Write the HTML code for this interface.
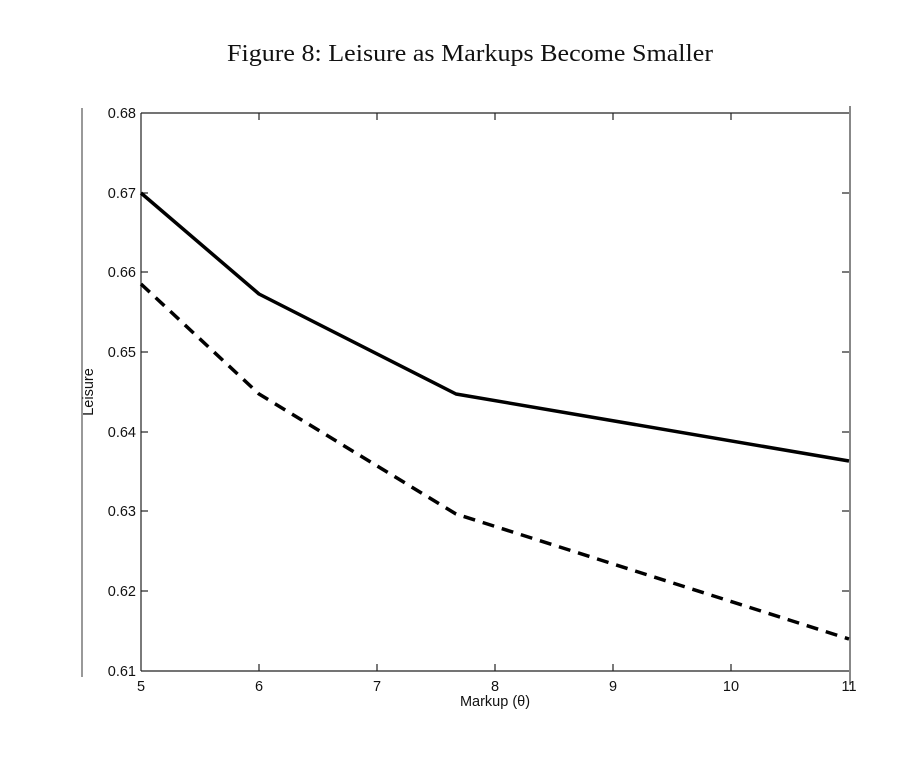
<!DOCTYPE html>
<html>
<head>
<meta charset="utf-8">
<style>
  html,body{margin:0;padding:0;background:#fff;}
  svg{display:block;}
  .tk{font-family:"Liberation Sans",Arial,sans-serif;font-size:14.5px;fill:#111;}
</style>
</head>
<body>
<svg width="924" height="772" viewBox="0 0 924 772" xmlns="http://www.w3.org/2000/svg">
  <rect width="924" height="772" fill="#fff"/>
  <!-- Title -->
  <text x="227" y="61" textLength="486" lengthAdjust="spacingAndGlyphs" font-family="'Liberation Serif','Times New Roman',serif" font-size="24" fill="#111">Figure 8: Leisure as Markups Become Smaller</text>

  <!-- decorative page lines -->
  <line x1="82" y1="108" x2="82" y2="677" stroke="#333" stroke-width="1"/>
  <line x1="850" y1="106" x2="850" y2="685" stroke="#888" stroke-width="2"/>

  <!-- axes frame -->
  <g stroke="#222" stroke-width="1.2" fill="none">
    <line x1="141" y1="113" x2="849" y2="113"/>
    <line x1="141" y1="671" x2="849" y2="671"/>
    <line x1="141" y1="113" x2="141" y2="671"/>
  </g>

  <!-- ticks -->
  <g stroke="#222" stroke-width="1.2">
    <!-- x ticks bottom & top -->
    <line x1="259" y1="671" x2="259" y2="664"/><line x1="259" y1="113" x2="259" y2="120"/>
    <line x1="377" y1="671" x2="377" y2="664"/><line x1="377" y1="113" x2="377" y2="120"/>
    <line x1="495" y1="671" x2="495" y2="664"/><line x1="495" y1="113" x2="495" y2="120"/>
    <line x1="613" y1="671" x2="613" y2="664"/><line x1="613" y1="113" x2="613" y2="120"/>
    <line x1="731" y1="671" x2="731" y2="664"/><line x1="731" y1="113" x2="731" y2="120"/>
    <!-- y ticks left & right -->
    <line x1="141" y1="193" x2="148" y2="193"/><line x1="849" y1="193" x2="842" y2="193"/>
    <line x1="141" y1="272" x2="148" y2="272"/><line x1="849" y1="272" x2="842" y2="272"/>
    <line x1="141" y1="352" x2="148" y2="352"/><line x1="849" y1="352" x2="842" y2="352"/>
    <line x1="141" y1="432" x2="148" y2="432"/><line x1="849" y1="432" x2="842" y2="432"/>
    <line x1="141" y1="511" x2="148" y2="511"/><line x1="849" y1="511" x2="842" y2="511"/>
    <line x1="141" y1="591" x2="148" y2="591"/><line x1="849" y1="591" x2="842" y2="591"/>
  </g>

  <!-- y tick labels -->
  <g class="tk" text-anchor="end">
    <text x="136" y="118">0.68</text>
    <text x="136" y="198">0.67</text>
    <text x="136" y="277">0.66</text>
    <text x="136" y="357">0.65</text>
    <text x="136" y="437">0.64</text>
    <text x="136" y="516">0.63</text>
    <text x="136" y="596">0.62</text>
    <text x="136" y="676">0.61</text>
  </g>
  <!-- x tick labels -->
  <g class="tk" text-anchor="middle">
    <text x="141" y="691">5</text>
    <text x="259" y="691">6</text>
    <text x="377" y="691">7</text>
    <text x="495" y="691">8</text>
    <text x="613" y="691">9</text>
    <text x="731" y="691">10</text>
    <text x="849" y="691">11</text>
  </g>

  <!-- axis labels -->
  <text class="tk" x="495" y="706" text-anchor="middle">Markup (θ)</text>
  <text class="tk" x="0" y="0" text-anchor="middle" transform="translate(93,392) rotate(-90)">Leisure</text>

  <!-- series -->
  <polyline points="141,193 259,294 456,394 849,461" fill="none" stroke="#000" stroke-width="3.5" stroke-linejoin="round"/>
  <polyline points="141,284 259,394 456,514 849,639" fill="none" stroke="#000" stroke-width="3.5" stroke-dasharray="12 8"/>
</svg>
</body>
</html>
